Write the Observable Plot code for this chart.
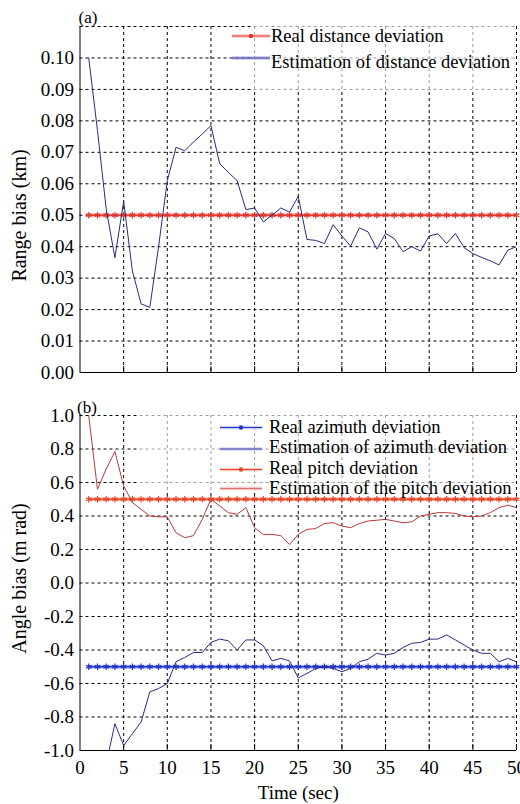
<!DOCTYPE html>
<html><head><meta charset="utf-8">
<script src="https://cdn.jsdelivr.net/npm/d3@7"></script>
<script src="https://cdn.jsdelivr.net/npm/@observablehq/plot@0.6"></script>
<style>
html,body{margin:0;padding:0;background:#fff;}
#chart{width:520px;}
#chart svg{display:block;}
</style></head><body><div id="chart"></div>
<script>
// ---------- data ----------
const time = [1,2,3,4,5,6,7,8,9,10,11,12,13,14,15,16,17,18,19,20,21,22,23,24,25,26,27,28,29,30,31,32,33,34,35,36,37,38,39,40,41,42,43,44,45,46,47,48,49,50];
const rangeEst = [0.100,0.077,0.052,0.0365,0.0544,0.0323,0.0218,0.0207,0.040,0.061,
  0.0716,0.0705,0.0733,0.0758,0.0785,0.0664,0.0636,0.061,0.0518,0.0523,
  0.0479,0.0500,0.0523,0.0510,0.0560,0.0423,0.0420,0.0410,0.0470,0.0434,
  0.0402,0.0460,0.0447,0.0392,0.0442,0.0426,0.0384,0.0400,0.0386,0.0434,
  0.0441,0.0410,0.0442,0.0397,0.0378,0.0366,0.0355,0.0342,0.0389,0.0400];
const realRange = 0.05;
const pitchEst = [1.0,0.56,0.68,0.785,0.58,0.48,0.44,0.40,0.395,0.395,
  0.30,0.27,0.283,0.38,0.50,0.46,0.42,0.41,0.45,0.33,
  0.29,0.29,0.283,0.23,0.29,0.32,0.325,0.355,0.36,0.34,
  0.33,0.355,0.37,0.375,0.38,0.37,0.36,0.365,0.40,0.41,
  0.42,0.42,0.415,0.40,0.395,0.40,0.42,0.45,0.465,0.45];
const realPitch = 0.5;
const azimuthEst = [null,null,-1.08,-0.84,-0.97,-0.90,-0.83,-0.65,-0.63,-0.60,
  -0.47,-0.445,-0.415,-0.415,-0.355,-0.335,-0.345,-0.40,-0.34,-0.34,
  -0.375,-0.465,-0.45,-0.465,-0.567,-0.54,-0.51,-0.50,-0.51,-0.53,
  -0.51,-0.47,-0.455,-0.42,-0.43,-0.42,-0.385,-0.36,-0.355,-0.335,
  -0.335,-0.31,-0.34,-0.37,-0.40,-0.42,-0.42,-0.47,-0.45,-0.47];
const realAzimuth = -0.5;

const xTicks = [0,5,10,15,20,25,30,35,40,45,50];
const xGrid = [5,10,15,20,25,30,35,40,45,50];
const rangeTicks = [0,0.01,0.02,0.03,0.04,0.05,0.06,0.07,0.08,0.09,0.10];
const rangeGrid = [0.01,0.02,0.03,0.04,0.05,0.06,0.07,0.08,0.09,0.10,0.11];
const angleTicks = [-1.0,-0.8,-0.6,-0.4,-0.2,0.0,0.2,0.4,0.6,0.8,1.0];
const angleGrid = [-0.8,-0.6,-0.4,-0.2,0.0,0.2,0.4,0.6,0.8,1.0];

const legendTop = ["Real distance deviation","Estimation of distance deviation"];
const legendBottom = ["Real azimuth deviation","Estimation of azimuth deviation","Real pitch deviation","Estimation of the pitch deviation"];

// ---------- styles ----------
const FONT = "'Liberation Serif','Times New Roman',serif";
const C = {
  rangeEst: "#2b2b7c", realRange: "#e6352b", realRangeHalo: "#f29a9a",
  azEst: "#2b2b88", realAz: "#2233cc", realAzHalo: "#8f9cec",
  pitchEst: "#b53a3a", realPitch: "#e8482a", realPitchHalo: "#f4a592"
};
const dash = {stroke: "black", strokeWidth: 1, strokeDasharray: "3,3"};
const baseStyle = {fontFamily: FONT, fontSize: "19px", background: "white", color: "black", overflow: "visible"};
const centered = {textAnchor: "middle", lineAnchor: "middle"};

const chart = document.getElementById("chart");

// ---------- panel (a) ----------
const hA = 390, mtA = 26, mbA = 18;
const plotA = Plot.plot({
  width: 520, height: hA,
  marginTop: mtA, marginBottom: mbA, marginLeft: 79.5, marginRight: 4,
  x: {domain: [0, 50], axis: null},
  y: {domain: [0, 0.11]},
  style: baseStyle,
  marks: [
    Plot.ruleX(xGrid, dash),
    Plot.ruleY(rangeGrid, dash),
    Plot.ruleX([0], {stroke: "black"}),
    Plot.ruleY([0], {stroke: "black"}),
    Plot.tickX(xGrid, {stroke: "black", insetTop: hA - mtA - mbA - 6}),
    Plot.axisY(rangeTicks, {tickFormat: d => d.toFixed(2), tickSize: 0, tickPadding: 6, label: null}),
    Plot.text(["Range bias (km)"], {frameAnchor: "left", rotate: -90, dx: -60, dy: 16, fontSize: 20, ...centered}),
    Plot.text(["(a)"], {frameAnchor: "top-left", dx: 8, dy: -9, fontSize: 17, ...centered}),
    Plot.line(time, {x: d => d, y: () => realRange, stroke: C.realRangeHalo, strokeWidth: 4, strokeOpacity: 0.6}),
    Plot.line(time, {x: d => d, y: () => realRange, stroke: C.realRange, strokeWidth: 1.3}),
    Plot.dot(time, {x: d => d, y: () => realRange, symbol: "asterisk", r: 3, stroke: C.realRange, strokeWidth: 1.2}),
    Plot.line(time, {x: d => d, y: (d, i) => rangeEst[i], stroke: C.rangeEst, strokeWidth: 1, clip: true})
  ]
});
chart.appendChild(plotA);

// ---------- panel (b) ----------
const hB = 414, mtB = 25, mbB = 54;
const plotB = Plot.plot({
  width: 520, height: hB,
  marginTop: mtB, marginBottom: mbB, marginLeft: 79.5, marginRight: 4,
  x: {domain: [0, 50]},
  y: {domain: [-1, 1]},
  style: baseStyle,
  marks: [
    Plot.ruleX(xGrid, dash),
    Plot.ruleY(angleGrid, dash),
    Plot.ruleX([0], {stroke: "black"}),
    Plot.ruleY([-1], {stroke: "black"}),
    Plot.tickX(xGrid, {stroke: "black", insetTop: hB - mtB - mbB - 6}),
    Plot.axisY(angleTicks, {tickFormat: d => d.toFixed(1), tickSize: 0, tickPadding: 6, label: null}),
    Plot.axisX(xTicks, {tickSize: 0, tickPadding: 10, label: null}),
    Plot.text(["Time (sec)"], {frameAnchor: "bottom", dy: 42, fontSize: 19, ...centered}),
    Plot.text(["Angle bias (m rad)"], {frameAnchor: "left", rotate: -90, dx: -60, dy: -4.5, fontSize: 20, ...centered}),
    Plot.text(["(b)"], {frameAnchor: "top-left", dx: 7, dy: -8, fontSize: 17, ...centered}),
    Plot.line(time, {x: d => d, y: () => realPitch, stroke: C.realPitchHalo, strokeWidth: 4, strokeOpacity: 0.6}),
    Plot.line(time, {x: d => d, y: () => realPitch, stroke: C.realPitch, strokeWidth: 1.3}),
    Plot.dot(time, {x: d => d, y: () => realPitch, symbol: "asterisk", r: 3, stroke: C.realPitch, strokeWidth: 1.2}),
    Plot.line(time, {x: d => d, y: () => realAzimuth, stroke: C.realAzHalo, strokeWidth: 4, strokeOpacity: 0.6}),
    Plot.line(time, {x: d => d, y: () => realAzimuth, stroke: C.realAz, strokeWidth: 1.3}),
    Plot.dot(time, {x: d => d, y: () => realAzimuth, symbol: "asterisk", r: 3, stroke: C.realAz, strokeWidth: 1.2}),
    Plot.line(time, {x: d => d, y: (d, i) => pitchEst[i], stroke: C.pitchEst, strokeWidth: 1, clip: true}),
    Plot.line(time, {x: d => d, y: (d, i) => azimuthEst[i], stroke: C.azEst, strokeWidth: 1, clip: true})
  ]
});
chart.appendChild(plotB);

// ---------- legends (overlay) ----------
function addLegend(svg, box, x1, x2, tx, items) {
  const g = d3.select(svg).append("g")
    .attr("font-family", FONT).attr("font-size", 18.5).attr("text-anchor", "start");
  g.append("rect").attr("x", box[0]).attr("y", box[1]).attr("width", box[2]).attr("height", box[3])
    .attr("fill", "white").attr("fill-opacity", 0.62);
  items.forEach(it => {
    g.append("line").attr("x1", x1).attr("x2", x2).attr("y1", it.ly).attr("y2", it.ly)
      .attr("stroke", it.halo).attr("stroke-width", 3.5).attr("stroke-opacity", 0.7);
    g.append("line").attr("x1", x1).attr("x2", x2).attr("y1", it.ly).attr("y2", it.ly)
      .attr("stroke", it.color).attr("stroke-width", 1);
    if (it.marker) g.append("circle").attr("cx", (x1 + x2) / 2).attr("cy", it.ly).attr("r", 2.2).attr("fill", it.color);
    g.append("text").attr("x", tx).attr("y", it.ty).attr("fill", "black").attr("text-anchor", "start").text(it.label);
  });
}
addLegend(plotA, [253, 26, 263, 65], 232, 270, 271, [
  {label: legendTop[0], ly: 36, ty: 42, color: C.realRange, halo: "#f6b0b0", marker: true},
  {label: legendTop[1], ly: 58, ty: 68, color: "#4444aa", halo: "#a8a8dd", marker: false}
]);
addLegend(plotB, [137, 25, 379, 77], 220, 262, 269, [
  {label: legendBottom[0], ly: 37.5, ty: 42.5, color: C.realAz, halo: "#b0b8e6", marker: true},
  {label: legendBottom[1], ly: 59, ty: 63, color: "#3a3ab0", halo: "#c0c0ee", marker: false},
  {label: legendBottom[2], ly: 79.5, ty: 84, color: C.realPitch, halo: "#f6b4a6", marker: true},
  {label: legendBottom[3], ly: 98.5, ty: 104, color: "#e07070", halo: "#f4b0b0", marker: false}
]);
</script></body></html>
